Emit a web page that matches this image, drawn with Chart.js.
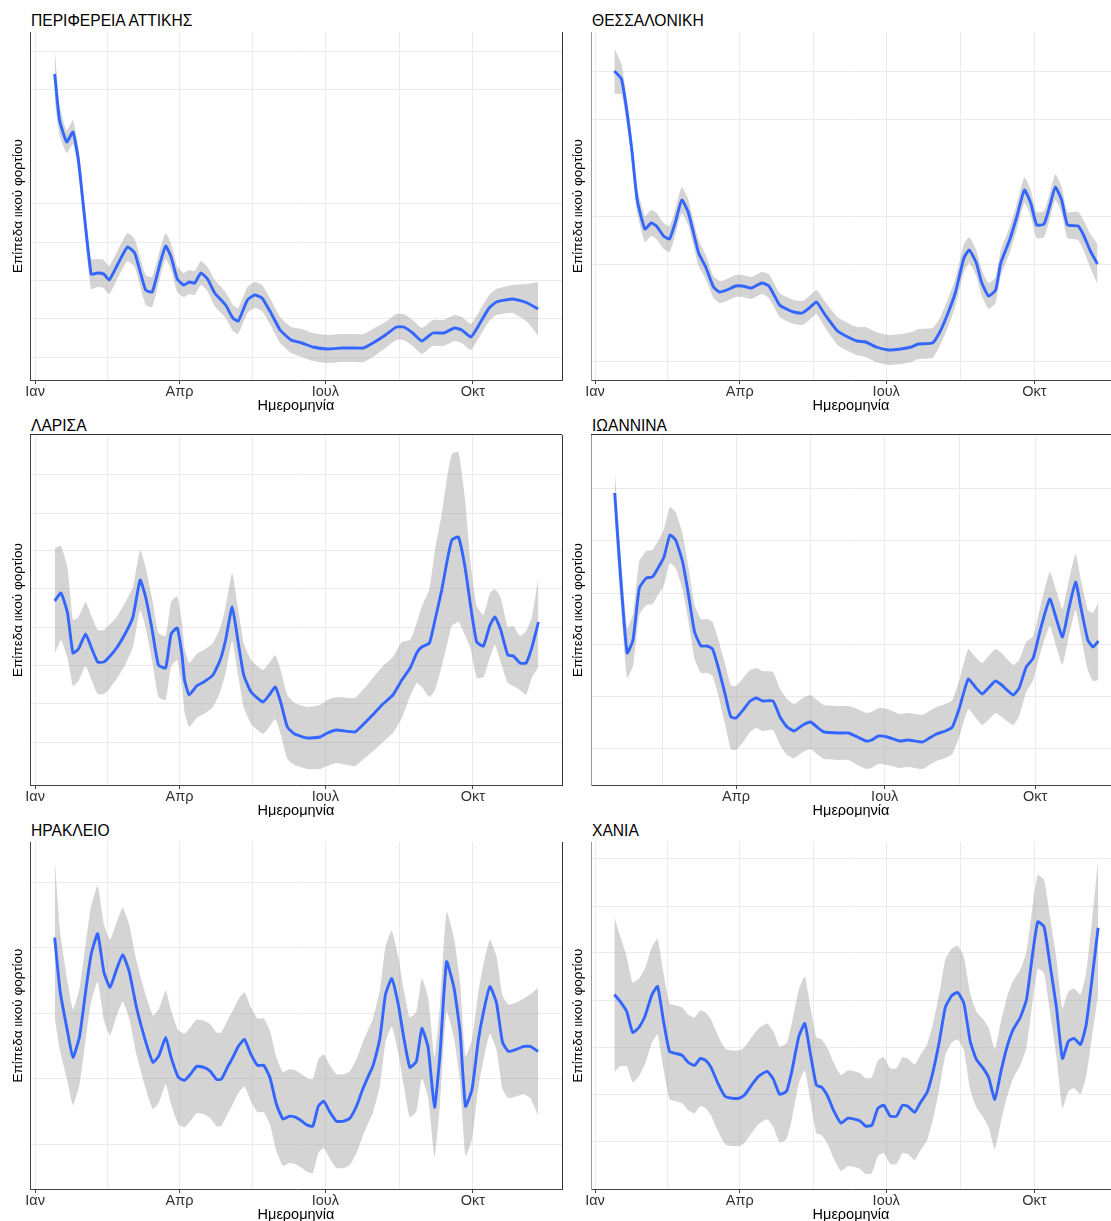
<!DOCTYPE html>
<html>
<head>
<meta charset="utf-8">
<script src="https://cdn.jsdelivr.net/npm/chart.js@4.4.0/dist/chart.umd.min.js"></script>
<style>
  body { margin: 0; width: 1111px; height: 1221px; background: #fff; position: relative; overflow: hidden;
         font-family: "Liberation Sans", Arial, sans-serif; }
  canvas { position: absolute; }
  .ttl { position: absolute; font-size: 15.6px; line-height: 1; color: #000; white-space: nowrap; }
</style>
</head>
<body>
<div class="ttl" style="left:31px;top:13px">ΠΕΡΙΦΕΡΕΙΑ ΑΤΤΙΚΗΣ</div>
<div class="ttl" style="left:592px;top:13px">ΘΕΣΣΑΛΟΝΙΚΗ</div>
<div class="ttl" style="left:31px;top:418px">ΛΑΡΙΣΑ</div>
<div class="ttl" style="left:592px;top:418px">ΙΩΑΝΝΙΝΑ</div>
<div class="ttl" style="left:31px;top:823px">ΗΡΑΚΛΕΙΟ</div>
<div class="ttl" style="left:592px;top:823px">ΧΑΝΙΑ</div>

<canvas id="att" width="566" height="382" style="left:0;top:30px"></canvas>
<canvas id="thes" width="546" height="382" style="left:565px;top:30px"></canvas>
<canvas id="lar" width="566" height="384" style="left:0;top:433px"></canvas>
<canvas id="ioa" width="546" height="384" style="left:565px;top:433px"></canvas>
<canvas id="her" width="566" height="381" style="left:0;top:840px"></canvas>
<canvas id="cha" width="546" height="381" style="left:565px;top:840px"></canvas>

<script>
// --- x axis: day of year ---
const xMajorDays = [0, 90, 181, 273];
const xMajorLabels = ["Ιαν", "Απρ", "Ιουλ", "Οκτ"];
const xMinorDays = [45, 135.5, 227];

// --- Attiki ---
const attDays = [12.2,15.2,19.7,23.6,27.0,34.9,39.0,42.8,46.2,51.9,57.6,62.1,68.9,73.0,78.0,81.4,84.8,88.6,92.7,96.1,
  99.5,103.4,107.5,112.0,118.8,123.3,126.7,132.4,136.9,141.5,147.1,152.8,159.6,166.4,173.2,182.3,191.3,198.1,204.9,211.7,
  218.5,225.3,229.9,235.5,241.2,248.0,254.8,261.6,266.1,271.8,277.5,283.1,287.7,297.9,307.0,313.7];
const attMid = [306,260,238,248,220,106,107,106,100,117,133,127,90,88,117,134,123,101,95,98,
  97,107,101,87,75,62,59,80,85,82,67,50,40,37,33,31,32,32,32,38,
  45,53,53,47,39,47,47,52,50,43,57,72,78,81,77,71];
const attCi = [26,15,11,12,12,15,14,14,14,14,14,14,15,15,14,13,13,13,12,12,
  12,12,12,13,13,13,13,13,13,13,13,13,13,14,14,14,14,14,14,14,
  13,13,13,13,13,13,13,13,13,13,13,13,13,14,19,27];
const attGrid = [23, 62, 100, 138, 177, 291, 329];

// --- Thessaloniki ---
const thesDays = [12.0,16.4,19.7,22.9,26.2,31.0,34.9,38.2,42.6,46.3,49.8,53.9,57.9,64.4,68.8,73.6,77.5,81.9,87.4,91.7,
  97.2,103.7,108.1,114.7,119.0,123.4,128.9,133.2,137.6,143.1,150.7,157.2,162.7,168.2,174.7,182.4,190.0,196.6,200.9,209.7,
  214.0,218.4,223.9,229.3,232.6,237.0,240.2,244.6,249.0,252.2,257.7,262.1,266.9,270.8,274.5,279.1,282.8,286.1,290.0,293.7,
  300.3,303.6,307.9,312.3];
const thesMid = [309,301,270,230,180,151,157,154,144,141,157,180,168,127,113,93,88,90,94,94,
  92,97,94,75,71,68,67,72,78,65,49,43,39,38,33,30,31,33,36,37,
  47,63,87,122,130,117,98,84,90,117,140,163,190,177,155,156,175,193,180,155,
  154,145,129,116];
const thesCi = [23,15,13,13,13,13,13,13,13,13,13,13,13,13,12,11,11,11,11,11,
  11,11,12,12,12,12,12,12,12,13,14,14,14,15,15,15,15,15,15,15,
  14,14,14,14,13,13,13,13,13,13,13,13,13,13,13,13,13,13,13,13,
  14,15,17,20];
const thesGrid = [19, 116, 163, 261, 308];

// --- Larisa ---
const larDays = [12.2,16.1,20.2,23.6,27.0,31.5,34.9,39.0,42.8,46.2,50.8,56.4,61.0,65.5,68.9,73.0,76.9,81.4,84.8,88.6,
  91.6,93.2,96.1,100.7,105.2,110.9,115.4,118.8,122.9,126.7,130.1,134.7,142.1,146.0,149.8,153.3,157.3,161.9,169.8,177.7,
  182.3,187.9,199.3,204.9,211.7,216.3,223.1,228.7,233.9,238.0,241.1,245.9,249.4,253.6,256.7,259.9,264.0,268.1,271.7,275.4,
  279.6,283.7,286.8,290.4,294.8,298.3,302.4,306.2,309.7,313.9];
const larMid = [184,192,172,132,136,151,138,123,123,128,137,152,168,205,188,155,120,117,151,157,
  130,105,90,99,103,110,125,145,178,142,110,93,83,90,98,82,58,51,47,48,
  52,55,53,61,72,80,90,105,117,132,138,142,165,195,222,245,248,218,178,143,
  139,160,168,155,130,129,122,122,137,163];
const larCi = [53,47,45,33,32,32,32,32,32,32,31,31,30,30,30,31,32,32,32,32,
  32,32,32,32,32,32,32,33,34,33,32,32,32,32,32,32,32,31,31,32,
  33,33,34,35,37,38,38,38,28,30,40,54,70,76,83,86,85,68,42,36,
  31,32,28,32,28,30,27,32,30,45];
const larGrid = [43, 82, 120, 158, 197, 235, 272, 311];

// --- Ioannina ---
const ioaDays = [15.7,19.0,23.3,26.9,30.8,35.1,38.8,42.6,45.9,49.5,53.0,57.3,60.9,64.6,68.5,72.3,75.6,79.2,83.1,86.8,
  90.0,94.3,98.6,102.5,106.1,112.6,116.9,121.2,125.5,130.9,135.6,139.5,143.8,154.6,158.9,164.3,169.7,172.9,177.2,182.6,
  190.1,195.5,204.1,208.4,212.7,218.1,222.4,226.7,232.1,236.4,240.7,245.0,248.7,252.6,255.8,259.7,263.3,267.6,271.9,276.2,
  282.0,285.9,289.8,293.5,297.8,301.0,305.3,308.5,311.8];
const ioaMid = [292,215,132,145,197,207,208,218,228,250,245,223,190,153,139,139,136,117,92,68,
  67,75,84,87,84,84,68,58,54,60,63,58,53,52,52,48,44,45,49,48,
  44,45,43,47,51,54,58,77,106,98,91,98,104,100,95,90,97,118,127,155,
  186,167,148,175,203,178,145,138,144];
const ioaCi = [25,25,25,26,27,27,27,27,28,28,28,28,27,27,27,27,27,28,30,32,
  32,32,31,30,30,29,28,28,27,27,27,27,27,27,27,28,28,28,28,28,
  27,27,27,27,27,27,27,28,30,30,31,32,32,32,31,30,28,25,22,23,
  27,28,28,28,28,28,30,34,39];
const ioaGrid = [37, 89, 141, 192, 244, 296];

// --- Heraklion ---
const herDays = [12.2,15.6,20.2,23.6,27.7,31.5,34.9,39.0,42.8,46.7,50.3,54.6,58.7,63.2,68.9,73.5,77.3,81.4,84.8,89.3,
  93.2,96.8,100.7,105.2,109.3,113.1,116.1,119.9,123.3,126.7,130.6,134.6,138.7,142.6,146.4,150.5,154.6,158.5,162.3,166.4,
  169.8,173.2,176.6,180.0,183.9,187.9,192.5,196.3,200.4,204.3,208.3,210.6,215.1,218.5,222.4,226.5,229.9,233.7,237.8,241.2,
  245.1,249.1,252.5,256.6,261.2,265.0,268.4,272.5,276.3,279.7,283.6,287.7,291.5,295.2,300.1,304.7,308.8,313.7];
const herMid = [252,198,158,132,153,198,235,256,218,202,218,235,218,182,148,127,134,152,132,112,
  109,115,123,122,118,110,110,122,132,143,150,135,124,124,112,85,70,73,72,68,
  64,63,83,88,77,68,68,71,83,100,115,123,152,195,211,185,152,122,128,161,
  142,82,135,228,202,158,83,100,148,178,203,187,147,138,140,143,143,138];
const herCi = [80,60,50,48,48,48,48,48,48,48,47,47,47,47,47,47,47,47,47,47,
  47,47,47,47,47,47,47,47,47,47,47,47,47,47,47,47,47,47,47,47,
  47,47,47,47,47,47,47,47,47,47,47,47,48,48,48,48,48,50,50,50,
  50,50,50,50,50,50,50,50,48,48,47,47,47,47,47,48,52,64];
const herGrid = [45, 111, 176, 242, 307];

// --- Chania ---
const chaDays = [12.0,15.7,19.7,23.4,27.3,31.0,35.4,38.9,42.6,46.3,50.2,54.2,57.9,61.8,65.5,68.8,72.1,76.4,80.8,85.2,
  89.5,92.8,97.2,101.6,107.0,110.9,114.7,119.0,122.3,126.7,130.4,133.9,137.6,140.9,144.6,148.5,152.9,157.2,161.2,164.9,
  168.2,172.1,175.8,179.5,183.5,187.4,191.1,194.4,198.7,202.0,206.4,210.1,214.0,217.7,221.7,225.4,229.3,233.2,237.0,241.3,
  244.6,248.5,252.3,256.0,259.9,264.3,268.2,271.9,275.2,279.1,282.8,286.8,290.5,294.2,297.7,301.8,305.3,309.0,312.7];
const chaMid = [195,188,178,157,162,173,195,203,168,138,136,134,127,124,131,129,122,106,93,91,
  91,94,104,113,118,110,95,98,118,153,166,135,104,102,93,78,66,71,70,68,
  63,64,81,84,73,73,84,83,77,86,97,118,148,182,194,197,186,148,130,121,
  112,90,118,142,160,172,190,235,268,263,225,182,131,148,151,145,165,212,262];
const chaCi = [78,65,55,50,49,48,48,48,48,48,48,48,48,48,48,48,48,48,48,48,
  48,48,48,48,48,48,48,48,48,47,47,47,48,48,48,48,48,48,48,48,
  48,48,48,48,48,48,48,48,48,48,48,48,48,48,47,47,47,48,48,49,
  50,50,50,50,49,48,48,48,47,47,48,49,50,50,50,50,52,58,68];
const chaGrid = [48, 95, 142, 189, 237, 283, 331];

Chart.defaults.font.family = '"Liberation Sans", Arial, sans-serif';

// extra border lines seen around some panels
const framePlugin = {
  id: "frame",
  afterDraw(chart, args, opts) {
    const { ctx, chartArea: a } = chart;
    ctx.save();
    ctx.strokeStyle = "#333";
    ctx.lineWidth = 1;
    if (opts.right) {
      ctx.beginPath();
      ctx.moveTo(Math.round(a.right) + 0.5, a.top);
      ctx.lineTo(Math.round(a.right) + 0.5, a.bottom);
      ctx.stroke();
    }
    if (opts.top) {
      ctx.beginPath();
      ctx.moveTo(a.left, Math.round(a.top) - 0.5);
      ctx.lineTo(a.right, Math.round(a.top) - 0.5);
      ctx.stroke();
    }
    ctx.restore();
  }
};

function points(days, vals) {
  return days.map((d, i) => ({ x: d, y: vals[i] }));
}

function drawPanel(p) {
  const hi = p.mid.map((v, i) => v + p.ci[i]);
  const lo = p.mid.map((v, i) => v - p.ci[i]);
  const xTicks = xMajorDays.concat(xMinorDays).sort((a, b) => a - b);

  new Chart(document.getElementById(p.id), {
    type: "line",
    data: {
      datasets: [
        { data: points(p.days, p.mid), borderColor: "#3366ff", borderWidth: 2.9, pointRadius: 0,
          tension: 0.15, fill: false, order: 0 },
        { data: points(p.days, hi), borderColor: "transparent", borderWidth: 0, pointRadius: 0,
          tension: 0.15, fill: "+1", backgroundColor: "rgba(153,153,153,0.42)", order: 1 },
        { data: points(p.days, lo), borderColor: "transparent", borderWidth: 0, pointRadius: 0,
          tension: 0.15, fill: false, order: 2 }
      ]
    },
    options: {
      responsive: false,
      animation: false,
      events: [],
      layout: { padding: { top: 2, right: p.padRight, bottom: 0, left: 0 } },
      plugins: {
        legend: { display: false },
        tooltip: { enabled: false },
        frame: { right: p.frameRight, top: p.frameTop }
      },
      scales: {
        x: {
          type: "linear",
          min: p.xMin,
          max: p.xMax,
          afterBuildTicks: (s) => {
            s.ticks = xTicks.filter((d) => d >= s.min && d <= s.max).map((d) => ({ value: d }));
          },
          afterFit: (s) => { s.height = 32; s.paddingLeft = 0; s.paddingRight = 0; },
          ticks: {
            autoSkip: false,
            maxRotation: 0,
            padding: -1,
            color: "#333",
            font: { size: 14.5 },
            callback: (v) => {
              const k = xMajorDays.indexOf(v);
              return k >= 0 ? xMajorLabels[k] : "";
            }
          },
          grid: {
            color: "#ebebeb",
            lineWidth: 1,
            tickLength: 4,
            tickColor: (c) => (xMajorDays.indexOf(c.tick.value) >= 0 ? "#444" : "rgba(0,0,0,0)")
          },
          border: { display: true, color: "#444", width: 1 },
          title: { display: true, text: "Ημερομηνία", color: "#000", font: { size: 14.5 },
                   padding: { top: 0, bottom: -3 } }
        },
        y: {
          min: 0,
          max: p.yMax,
          afterBuildTicks: (s) => { s.ticks = p.grid.map((v) => ({ value: v })); },
          afterFit: (s) => { s.width = p.yWidth; },
          ticks: { display: false },
          grid: { color: "#ebebeb", lineWidth: 1, drawTicks: false },
          border: { display: true, color: p.axisColor, width: 1 },
          title: { display: true, text: "Επίπεδα ιικού φορτίου", color: "#000", font: { size: 13.5 },
                   padding: { top: p.yTitlePad, bottom: 0 } }
        }
      }
    },
    plugins: [framePlugin]
  });
}

const left = { padRight: 4, yWidth: 30, yTitlePad: 10.5, frameRight: true, xMin: -3.2, xMax: 328.6, axisColor: "#444" };
const right = { padRight: 0, yWidth: 26, yTitlePad: 5.5, frameRight: false, xMin: -2.5, xMax: 320.7, axisColor: "#999" };

drawPanel(Object.assign({}, left, { id: "att", days: attDays, mid: attMid, ci: attCi, grid: attGrid, yMax: 348 }));
drawPanel(Object.assign({}, right, { id: "thes", days: thesDays, mid: thesMid, ci: thesCi, grid: thesGrid, yMax: 348 }));
drawPanel(Object.assign({}, left, { id: "lar", days: larDays, mid: larMid, ci: larCi, grid: larGrid, yMax: 350, frameTop: true }));
drawPanel(Object.assign({}, right, { id: "ioa", days: ioaDays, mid: ioaMid, ci: ioaCi, grid: ioaGrid, yMax: 350, frameTop: true,
  xMin: 1.2, xMax: 319.5 }));
drawPanel(Object.assign({}, left, { id: "her", days: herDays, mid: herMid, ci: herCi, grid: herGrid, yMax: 348 }));
drawPanel(Object.assign({}, right, { id: "cha", days: chaDays, mid: chaMid, ci: chaCi, grid: chaGrid, yMax: 348 }));
</script>
</body>
</html>
